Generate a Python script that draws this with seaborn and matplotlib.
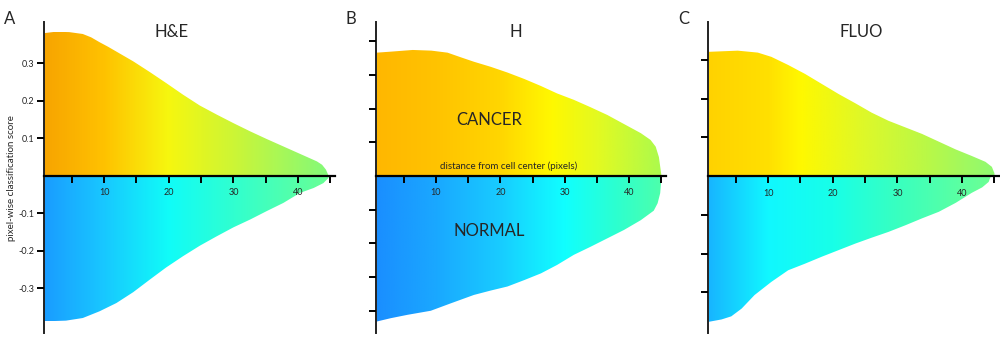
import numpy as np
import matplotlib
matplotlib.use("Agg")
import matplotlib.pyplot as plt
import seaborn as sns
from matplotlib.colors import LinearSegmentedColormap
from matplotlib.patches import Polygon

sns.set_theme(style="white")
plt.rcParams["font.family"] = ["Lato", "DejaVu Sans"]
plt.rcParams["axes.unicode_minus"] = False

# ---- data: distance (px) vs pixel-wise score ----
he_cancer_d = [0.6, 2.5, 4.6, 6.7, 8.0, 9.3, 10.6, 11.9, 13.2, 14.5, 17.1, 19.6, 22.2,
               24.8, 27.4, 30.0, 32.6, 35.1, 37.7, 40.3, 42.9, 43.7, 44.3, 44.7]
he_cancer_s = [0.380, 0.384, 0.383, 0.378, 0.369, 0.356, 0.344, 0.331, 0.318, 0.305,
               0.276, 0.247, 0.216, 0.187, 0.163, 0.140, 0.118, 0.098, 0.078, 0.058,
               0.038, 0.029, 0.016, 0.0]
he_normal_d = [0.6, 4.1, 6.7, 9.3, 11.9, 14.5, 17.1, 19.6, 22.2, 24.8, 27.4, 30.0,
               32.6, 35.1, 37.7, 40.3, 42.4, 43.9, 44.7]
he_normal_s = [-0.389, -0.387, -0.380, -0.362, -0.340, -0.311, -0.277, -0.245, -0.215,
               -0.187, -0.162, -0.138, -0.117, -0.095, -0.073, -0.046, -0.033, -0.020,
               -0.006]

h_cancer_d = [0.8, 3.0, 6.4, 9.3, 11.8, 13.9, 15.9, 18.5, 21.1, 23.7, 26.3, 28.8, 31.4,
              34.0, 36.6, 39.2, 41.8, 43.3, 44.1, 44.6, 45.0]
h_cancer_s = [0.366, 0.369, 0.374, 0.372, 0.366, 0.352, 0.339, 0.324, 0.307, 0.288,
              0.267, 0.245, 0.226, 0.204, 0.181, 0.154, 0.127, 0.107, 0.087, 0.056, 0.0]
h_normal_d = [0.8, 3.0, 5.6, 9.2, 12.3, 15.9, 18.5, 21.1, 23.7, 26.3, 28.8, 31.4, 34.0,
              36.6, 39.2, 41.8, 43.8, 44.4, 44.8, 45.0]
h_normal_s = [-0.432, -0.422, -0.412, -0.400, -0.378, -0.353, -0.340, -0.328, -0.309,
              -0.289, -0.264, -0.234, -0.210, -0.185, -0.160, -0.131, -0.103, -0.081,
              -0.051, -0.002]

fluo_cancer_d = [0.85, 5.3, 8.4, 10.5, 13.1, 15.7, 18.3, 20.9, 23.5, 26.0, 28.6, 31.2,
                 33.8, 36.4, 39.0, 41.5, 43.6, 44.6, 45.0]
fluo_cancer_s = [0.321, 0.324, 0.319, 0.308, 0.287, 0.264, 0.238, 0.212, 0.188, 0.164,
                 0.143, 0.126, 0.109, 0.089, 0.069, 0.052, 0.037, 0.024, 0.007]
fluo_normal_d = [0.85, 2.8, 4.3, 5.9, 7.9, 10.5, 13.1, 15.7, 18.3, 20.9, 23.5, 26.0,
                 28.6, 31.2, 33.8, 36.4, 39.0, 41.5, 43.1, 44.1, 44.4]
fluo_normal_s = [-0.376, -0.370, -0.362, -0.342, -0.307, -0.273, -0.243, -0.226, -0.208,
                 -0.191, -0.174, -0.159, -0.144, -0.127, -0.109, -0.092, -0.069, -0.043,
                 -0.029, -0.015, -0.002]

x_ticks = [5, 10, 15, 20, 25, 30, 35, 40, 45]

# gradient colour stops (distance, colour) for each area
he_top_stops = [(0.6, "#F7A400"), (10, "#FFC200"), (20, "#F6F70F"), (30, "#CDF535"), (45.7, "#7EFA7E")]
he_bot_stops = [(0.6, "#1A9CFF"), (10, "#18C8FF"), (20, "#10FCF8"), (30, "#30FFD0"), (45.7, "#6CFF90")]
h_top_stops = [(0.6, "#FFB700"), (10, "#FFC300"), (20, "#FFD600"), (28, "#FFF800"),
               (35, "#E4FA20"), (45.7, "#A8FA50")]
h_bot_stops = [(0.6, "#1A8EFF"), (10, "#1AA8FF"), (20, "#18CCFF"), (30, "#10FFFF"),
               (38, "#2CFFD0"), (45.7, "#50FFA8")]
fluo_top_stops = [(0.6, "#FFD200"), (10, "#FFE000"), (15, "#FFF800"), (25, "#DDF82A"),
                  (35, "#B8F848"), (45.7, "#8CFA74")]
fluo_bot_stops = [(0.6, "#18B4FF"), (10, "#10F8FF"), (20, "#18FFE8"), (30, "#38FFC0"),
                  (45.7, "#70FF90")]

XMIN, XMAX = 0.7, 45.7


def gradient_area(ax, d, s, stops):
    """fill area between 0 and curve with a horizontal colour gradient"""
    lo, hi = stops[0][0], stops[-1][0]
    cmap = LinearSegmentedColormap.from_list(
        "g", [((p - lo) / (hi - lo), c) for p, c in stops])
    top = max(max(s), 0)
    bot = min(min(s), 0)
    grad = np.linspace(0, 1, 400).reshape(1, -1)
    im = ax.imshow(grad, extent=(lo, hi, bot, top), aspect="auto", cmap=cmap,
                   origin="lower", interpolation="bilinear", zorder=0.8)
    verts = [(d[0], 0)] + list(zip(d, s)) + [(d[-1], 0)]
    patch = Polygon(verts, closed=True, transform=ax.transData,
                    facecolor="none", edgecolor="none")
    ax.add_patch(patch)
    im.set_clip_path(patch)


def draw_panel(ax, top, bot, top_stops, bot_stops, ylim, yticks, show_labels):
    gradient_area(ax, top[0], top[1], top_stops)
    gradient_area(ax, bot[0], bot[1], bot_stops)
    ax.set_axisbelow(False)
    ax.set_xlim(XMIN, XMAX)
    ax.set_ylim(*ylim)
    sns.despine(ax=ax, top=True, right=True)
    ax.spines["bottom"].set_position(("data", 0))
    ax.spines["bottom"].set_linewidth(1.6)
    ax.spines["bottom"].set_color("black")
    ax.spines["left"].set_linewidth(1.4)
    ax.spines["left"].set_color("#222222")
    ax.set_xticks(x_ticks)
    ax.set_xticklabels([str(t) if t % 10 == 0 else "" for t in x_ticks])
    ax.set_yticks(yticks)
    if show_labels:
        ax.set_yticklabels([f"{t:.1f}" for t in yticks])
    else:
        ax.set_yticklabels([])
    ax.tick_params(axis="x", direction="out", length=5, width=1.4, color="black",
                   labelsize=6.5, pad=4, bottom=True)
    ax.tick_params(axis="y", direction="out", length=5, width=1.4, color="black",
                   labelsize=6.5, pad=2, left=True)
    ax.grid(False)
    ax.set_facecolor("white")


fig = plt.figure(figsize=(10, 3.54), dpi=100)
H = 354.0
bottom = (H - 333) / H
height = 311 / H
ax_a = fig.add_axes([0.044, bottom, 0.291, height])
ax_b = fig.add_axes([0.376, bottom, 0.290, height])
ax_c = fig.add_axes([0.708, bottom, 0.291, height])

draw_panel(ax_a, (he_cancer_d, he_cancer_s), (he_normal_d, he_normal_s),
           he_top_stops, he_bot_stops, (-0.42, 0.41),
           [-0.3, -0.2, -0.1, 0.1, 0.2, 0.3], True)
draw_panel(ax_b, (h_cancer_d, h_cancer_s), (h_normal_d, h_normal_s),
           h_top_stops, h_bot_stops, (-0.466, 0.457),
           [-0.4, -0.3, -0.2, -0.1, 0.1, 0.2, 0.3, 0.4], False)
draw_panel(ax_c, (fluo_cancer_d, fluo_cancer_s), (fluo_normal_d, fluo_normal_s),
           fluo_top_stops, fluo_bot_stops, (-0.405, 0.398),
           [-0.3, -0.2, -0.1, 0.1, 0.2, 0.3], False)

# panel titles
ax_a.text(0.44, 0.968, "H&E", transform=ax_a.transAxes, ha="center", va="center", fontsize=12)
ax_b.text(0.483, 0.968, "H", transform=ax_b.transAxes, ha="center", va="center", fontsize=12)
ax_c.text(0.527, 0.968, "FLUO", transform=ax_c.transAxes, ha="center", va="center", fontsize=12)

# annotations in panel B
ax_b.text(18.2, 0.166, "CANCER", ha="center", va="center", fontsize=12, zorder=4)
ax_b.text(18.3, -0.163, "NORMAL", ha="center", va="center", fontsize=12, zorder=4)
ax_b.text(21.3, 0.030, "distance from cell center (pixels)", ha="center", va="center",
          fontsize=7, zorder=4)

fig.text(0.012, 1 - 178 / H, "pixel-wise classification score", rotation=90,
         ha="center", va="center", fontsize=7)

for letter, x in [("A", 10), ("B", 351), ("C", 684)]:
    fig.text(x / 1000, 1 - 19 / H, letter, ha="center", va="center", fontsize=12)

fig.savefig("out.png", dpi=100)
plt.close(fig)
